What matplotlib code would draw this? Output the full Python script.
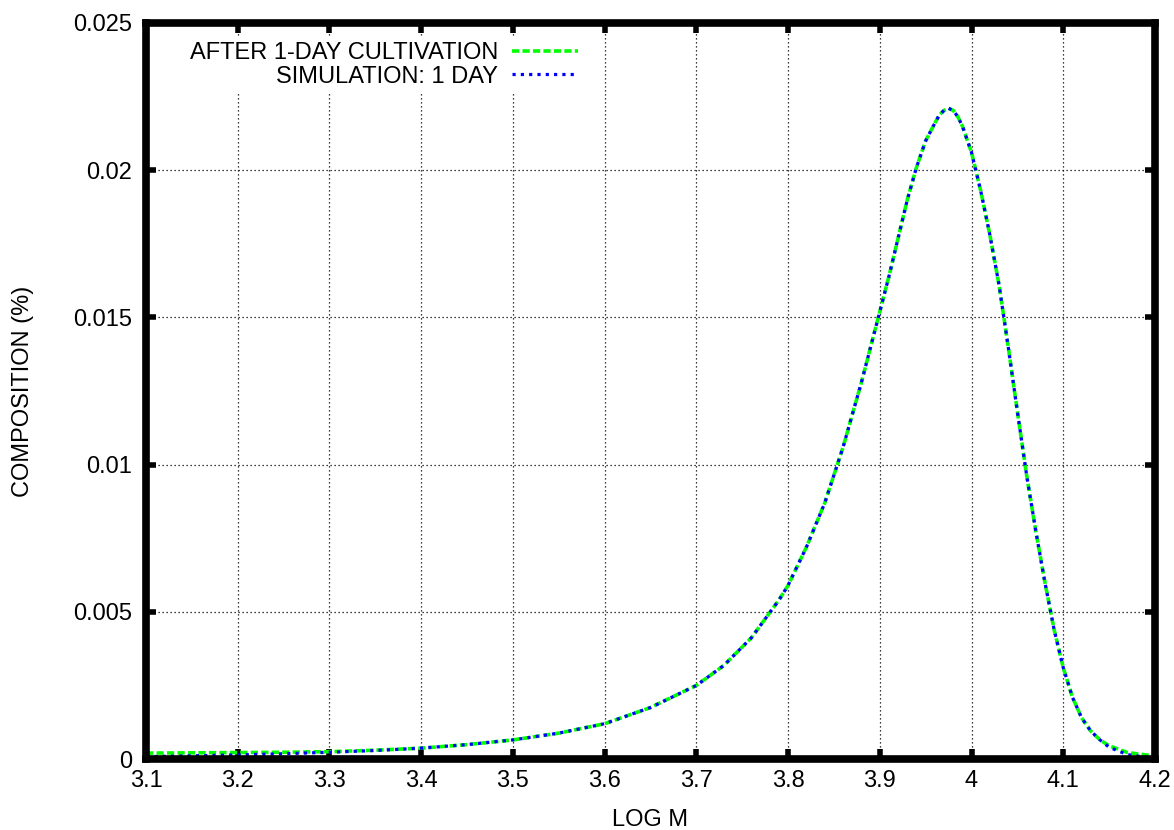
import numpy as np
import matplotlib.pyplot as plt

plt.rcParams['font.family'] = ['Liberation Sans', 'DejaVu Sans']

# log M grid and measured / simulated composition
log_m = [3.10, 3.15, 3.20, 3.25, 3.30, 3.35, 3.40, 3.45, 3.50, 3.55,
         3.60, 3.65, 3.70, 3.73, 3.76, 3.79, 3.80, 3.82, 3.84, 3.86,
         3.88, 3.90, 3.91, 3.92, 3.93, 3.94, 3.95, 3.96, 3.965, 3.97, 3.975,
         3.98, 3.985, 3.99, 4.00, 4.01, 4.02, 4.03, 4.04, 4.05, 4.06, 4.07,
         4.08, 4.09, 4.10, 4.11, 4.12, 4.13, 4.14, 4.15, 4.17, 4.20]

cultivation = [0.00020, 0.00021, 0.00022, 0.00023, 0.00025, 0.00030, 0.00037, 0.00049, 0.00065, 0.00088,
               0.00120, 0.00175, 0.00250, 0.00318, 0.00412, 0.00540, 0.00590, 0.00720, 0.00870, 0.01060,
               0.01280, 0.01520, 0.01640, 0.01770, 0.01900, 0.02010, 0.02100, 0.02160, 0.02188, 0.02203, 0.02210,
               0.02203, 0.02182, 0.02150, 0.02060, 0.01930, 0.01780, 0.01610, 0.01400, 0.01180, 0.00965, 0.00775,
               0.00600, 0.00440, 0.00310, 0.00210, 0.00140, 0.00095, 0.00065, 0.00045, 0.00022, 0.00010]

simulation = [0.00008, 0.00011, 0.00014, 0.00018, 0.00023, 0.00029, 0.00037, 0.00049, 0.00065, 0.00088,
              0.00120, 0.00175, 0.00250, 0.00318, 0.00412, 0.00540, 0.00590, 0.00720, 0.00870, 0.01060,
              0.01280, 0.01520, 0.01640, 0.01770, 0.01900, 0.02010, 0.02100, 0.02160, 0.02188, 0.02203, 0.02210,
              0.02203, 0.02182, 0.02150, 0.02060, 0.01930, 0.01780, 0.01610, 0.01400, 0.01180, 0.00965, 0.00775,
              0.00600, 0.00440, 0.00310, 0.00210, 0.00140, 0.00095, 0.00065, 0.00040, 0.00015, 0.00002]

x_ticks = [3.1, 3.2, 3.3, 3.4, 3.5, 3.6, 3.7, 3.8, 3.9, 4.0, 4.1, 4.2]
x_labels = ['3.1', '3.2', '3.3', '3.4', '3.5', '3.6', '3.7', '3.8', '3.9', '4', '4.1', '4.2']
y_ticks = [0, 0.005, 0.01, 0.015, 0.02, 0.025]
y_labels = ['0', '0.005', '0.01', '0.015', '0.02', '0.025']

fs = 17

fig = plt.figure(figsize=(11.74, 8.3), dpi=100)
ax = fig.add_axes([0.1244, 0.0855, 0.8594, 0.8868])

ax.plot(log_m, cultivation, color='#00ff00', lw=2.6, dashes=(2.0, 0.9),
        dash_capstyle='butt', label='AFTER 1-DAY CULTIVATION')
ax.plot(log_m, simulation, color='#0000ff', lw=2.3, dashes=(1.0, 1.6),
        dash_capstyle='butt', label='SIMULATION: 1 DAY')

ax.set_xlim(3.1, 4.2)
ax.set_ylim(0, 0.025)
ax.set_xticks(x_ticks)
ax.set_xticklabels(x_labels)
ax.set_yticks(y_ticks)
ax.set_yticklabels(y_labels)

ax.grid(True, color='black', lw=0.9, linestyle=(0, (1, 2.2)))
ax.set_axisbelow(True)

for sp in ax.spines.values():
    sp.set_linewidth(5.5)
ax.tick_params(direction='in', length=7.5, width=4, top=True, right=True,
               labelsize=fs)
ax.tick_params(axis='x', pad=8)
ax.tick_params(axis='y', pad=10)

ax.set_xlabel('LOG M', fontsize=fs, labelpad=12)
ax.set_ylabel('COMPOSITION (%)', fontsize=fs, labelpad=28)

leg = ax.legend(loc='upper right', bbox_to_anchor=(0.433, 0.98), fontsize=fs,
                markerfirst=False, frameon=True, facecolor='white',
                edgecolor='none', framealpha=1, fancybox=False,
                handlelength=2.8, handletextpad=0.6, labelspacing=0.05,
                borderpad=0.2, borderaxespad=0)

fig.savefig('out.png', dpi=100)
